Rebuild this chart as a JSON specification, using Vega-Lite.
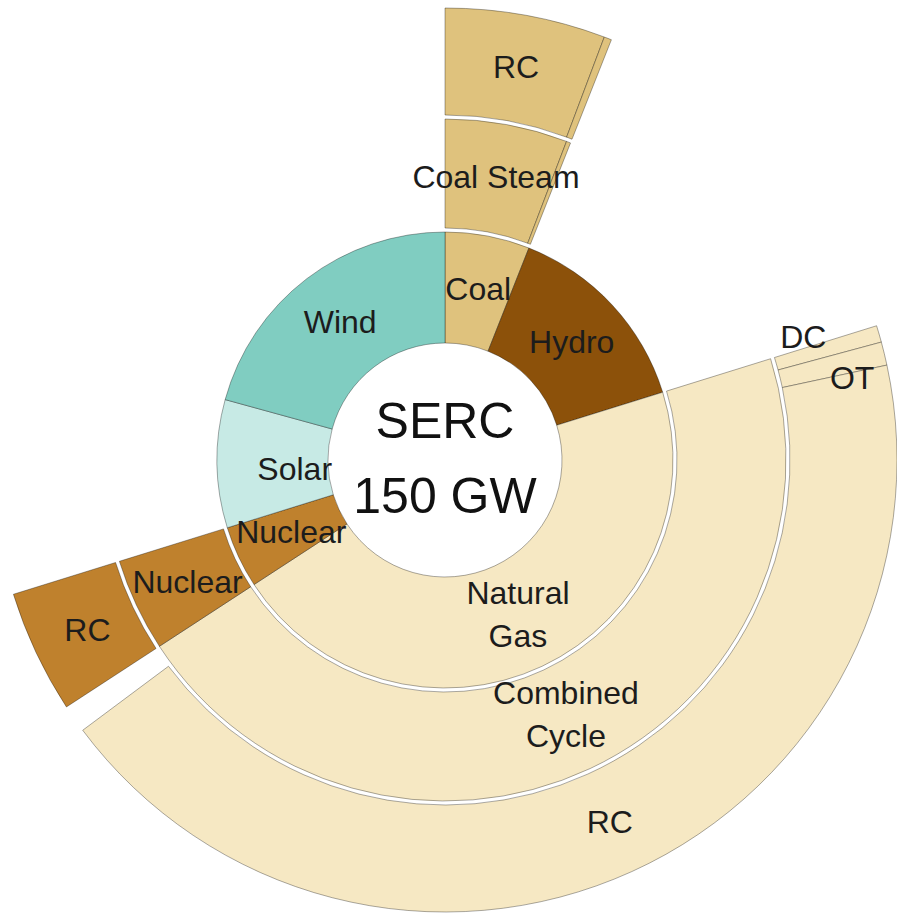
{
  "$schema": "https://vega.github.io/schema/vega-lite/v6.json",
  "width": 890,
  "height": 908,
  "autosize": {"type": "none"},
  "padding": {"left": 0, "top": 6, "right": 7, "bottom": 0},
  "background": "white",
  "config": {"view": {"stroke": null}},
  "datasets": {
    "segments": [
      {"name": "Coal", "fuel": "Coal", "start": 0, "end": 9.0, "inner": 0, "outer": 1},
      {"name": "Hydro", "fuel": "Hydro", "start": 9.0, "end": 30.3, "inner": 0, "outer": 1},
      {"name": "Natural Gas", "fuel": "Natural Gas", "start": 30.3, "end": 98.7, "inner": 0, "outer": 1},
      {"name": "Nuclear", "fuel": "Nuclear", "start": 98.7, "end": 105.3, "inner": 0, "outer": 1},
      {"name": "Solar", "fuel": "Solar", "start": 105.3, "end": 118.9, "inner": 0, "outer": 1},
      {"name": "Wind", "fuel": "Wind", "start": 118.9, "end": 150, "inner": 0, "outer": 1},
      {"name": "Coal Steam", "fuel": "Coal", "start": 0, "end": 8.7, "inner": 1, "outer": 2},
      {"name": "Coal Other", "fuel": "Coal", "start": 8.7, "end": 9.0, "inner": 1, "outer": 2},
      {"name": "Combined Cycle", "fuel": "Natural Gas", "start": 30.3, "end": 98.7, "inner": 1, "outer": 2},
      {"name": "Nuclear", "fuel": "Nuclear", "start": 98.7, "end": 105.3, "inner": 1, "outer": 2},
      {"name": "RC", "fuel": "Coal", "start": 0, "end": 8.6, "inner": 2, "outer": 3},
      {"name": "Other", "fuel": "Coal", "start": 8.6, "end": 9.0, "inner": 2, "outer": 3},
      {"name": "DC", "fuel": "Natural Gas", "start": 30.3, "end": 31.2, "inner": 2, "outer": 3},
      {"name": "OT", "fuel": "Natural Gas", "start": 31.2, "end": 32.45, "inner": 2, "outer": 3},
      {"name": "RC", "fuel": "Natural Gas", "start": 32.45, "end": 97.2, "inner": 2, "outer": 3},
      {"name": "RC", "fuel": "Nuclear", "start": 98.7, "end": 105.3, "inner": 2, "outer": 3}
    ],
    "labels": [
      {"label": "Coal", "angle": 4.6, "ring": 0.51},
      {"label": "Hydro", "angle": 19.7, "ring": 0.5},
      {"label": "Wind", "angle": 134.4, "ring": 0.5},
      {"label": "Solar", "angle": 110.9, "ring": 0.31},
      {"label": "Nuclear", "angle": 101.9, "ring": 0.48},
      {"label": "Coal Steam", "angle": 4.27, "ring": 1.5},
      {"label": "Nuclear", "angle": 101.85, "ring": 1.49},
      {"label": "RC", "angle": 4.28, "ring": 2.5},
      {"label": "RC", "angle": 101.86, "ring": 2.48},
      {"label": "RC", "angle": 64.82, "ring": 2.5},
      {"label": "DC", "angle": 29.66, "ring": 2.32},
      {"label": "OT", "angle": 32.81, "ring": 2.65}
    ],
    "labels2": [
      {"label": "Natural\nGas", "angle": 64.5, "ring": 0.49},
      {"label": "Combined\nCycle", "angle": 64.46, "ring": 1.47}
    ],
    "center": [
      {"title": "SERC\n150 GW"}
    ]
  },
  "layer": [
    {
      "data": {"name": "segments"},
      "mark": {
        "type": "arc",
        "stroke": "black",
        "strokeOpacity": 0.33,
        "strokeWidth": 1,
        "radiusOffset": -2,
        "radius2Offset": 2
      },
      "encoding": {
        "theta": {
          "field": "start",
          "type": "quantitative",
          "stack": null,
          "scale": {"domain": [0, 150], "range": [0, 6.283185307179586]}
        },
        "theta2": {"field": "end"},
        "radius": {
          "field": "outer",
          "type": "quantitative",
          "scale": {"type": "linear", "domain": [0, 1, 2, 3], "range": [115, 230, 343, 454]}
        },
        "radius2": {"field": "inner"},
        "color": {
          "field": "fuel",
          "type": "nominal",
          "legend": null,
          "scale": {
            "domain": ["Coal", "Hydro", "Natural Gas", "Nuclear", "Solar", "Wind"],
            "range": ["#dfc27d", "#8c510a", "#f6e8c3", "#bf812d", "#c7eae5", "#80cdc1"]
          }
        }
      }
    },
    {
      "data": {"name": "labels"},
      "mark": {
        "type": "text",
        "font": "Liberation Sans",
        "fontSize": 32,
        "fill": "#1c1c1c",
        "align": "center",
        "baseline": "middle"
      },
      "encoding": {
        "theta": {"field": "angle", "type": "quantitative", "stack": null},
        "radius": {"field": "ring", "type": "quantitative"},
        "text": {"field": "label", "type": "nominal"}
      }
    },
    {
      "data": {"name": "labels2"},
      "mark": {
        "type": "text",
        "font": "Liberation Sans",
        "fontSize": 32,
        "lineBreak": "\n",
        "lineHeight": 43,
        "dy": -21.5,
        "fill": "#1c1c1c",
        "align": "center",
        "baseline": "middle"
      },
      "encoding": {
        "theta": {"field": "angle", "type": "quantitative", "stack": null},
        "radius": {"field": "ring", "type": "quantitative"},
        "text": {"field": "label", "type": "nominal"}
      }
    },
    {
      "data": {"name": "center"},
      "mark": {
        "type": "text",
        "font": "Liberation Sans",
        "fontSize": 50,
        "lineBreak": "\n",
        "lineHeight": 75,
        "dy": -37.5,
        "fill": "#111111",
        "align": "center",
        "baseline": "middle"
      },
      "encoding": {
        "text": {"field": "title", "type": "nominal"}
      }
    }
  ]
}
